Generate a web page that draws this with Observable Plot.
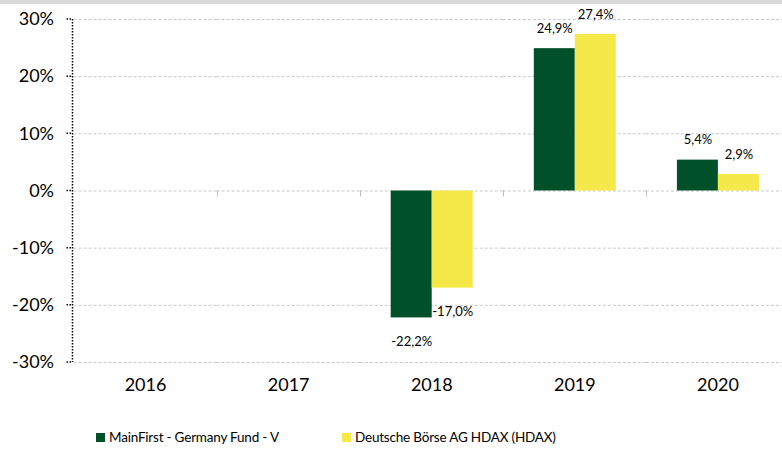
<!DOCTYPE html>
<html><head><meta charset="utf-8">
<script src="https://cdn.jsdelivr.net/npm/d3@7"></script>
<script src="https://cdn.jsdelivr.net/npm/@observablehq/plot@0.6"></script>
<style>
body{margin:0;overflow:hidden;background:#fff;font-family:Lato,sans-serif;width:782px;height:450px;position:relative}
#topband{position:absolute;left:0;top:0;width:782px;height:4px;background:#d9d9d9}
#chart{position:absolute;left:0;top:0;width:782px;overflow:hidden}
#chart svg{max-width:none !important}
#legend{position:absolute;top:429px;left:0;width:782px;height:20px;font-size:13.5px;letter-spacing:-0.2px;color:#000}
.item{position:absolute;top:0;display:flex;align-items:center;white-space:nowrap}
.sw{width:9px;height:9px;margin-right:4px}
</style></head><body>
<div id="chart"></div><div id="topband"></div><div id="legend"></div>
<script>
const years = ["2016","2017","2018","2019","2020"];
const seriesNames = ["MainFirst - Germany Fund - V","Deutsche Börse AG HDAX (HDAX)"];
const fundValues = [null,null,-22.2,24.9,5.4];
const indexValues = [null,null,-17.0,27.4,2.9];
const yTicks = [-30,-20,-10,0,10,20,30];
const colors = ["#00502a","#f5e94a"];

const rows = [];
years.forEach((yr,i)=>{
  [fundValues,indexValues].forEach((vals,s)=>{
    rows.push({year: yr, series: seriesNames[s], value: vals[i]});
  });
});
const valued = rows.filter(d => d.value != null);
const fmt = v => v.toFixed(1).replace(".", ",") + "%";

const plot = Plot.plot({
  width: 790, height: 400,
  marginLeft: 73, marginRight: 0, marginTop: 19, marginBottom: 38,
  style: {fontFamily: "Lato, sans-serif", fontSize: "17px", color: "#000", background: "transparent", maxWidth: "none"},
  fx: {domain: years, padding: 0, label: null, axis: null, range: [73.5, 789], round: false},
  x: {domain: seriesNames, paddingInner: 0, paddingOuter: 0.74, axis: null, label: null},
  y: {domain: [-30, 30], label: null, axis: null, range: [362, 19]},
  color: {domain: seriesNames, range: colors},
  marks: [
    Plot.gridY({ticks: yTicks, stroke: "#c8c8c8", strokeOpacity: 1, strokeDasharray: "3,2"}),
    Plot.barY(rows, {fx: "year", x: "series", y: "value", fill: "series"}),
    Plot.text(valued.filter(d => d.value >= 0), {fx: "year", x: "series", y: "value", text: d => fmt(d.value), dy: -20, fontSize: 13, fill: "#000"}),
    Plot.text(valued.filter(d => d.value < 0), {fx: "year", x: "series", y: "value", text: d => fmt(d.value), dy: 24, fontSize: 13, fill: "#000"}),
    Plot.axisY({ticks: yTicks, tickFormat: d => d + "%", tickSize: 0, tickPadding: 20, fontSize: 18}),
    Plot.axisFx({anchor: "bottom", tickSize: 0, tickPadding: 16, fontSize: 18, label: null})
  ]
});
document.getElementById("chart").appendChild(plot);

// Excel-style dotted axis and category boundary ticks, from the plot's own scales
const ys = plot.scale("y"), fxs = plot.scale("fx");
const svg = d3.select(plot);
const ax = 72.5;
const g = svg.append("g");
g.append("line").attr("x1", ax).attr("x2", ax).attr("y1", ys.apply(30)).attr("y2", ys.apply(-30))
  .attr("stroke", "#000").attr("stroke-width", 1.5).attr("stroke-dasharray", "1.5,1.5");
yTicks.forEach(t => {
  g.append("line").attr("x1", ax - 6).attr("x2", ax).attr("y1", ys.apply(t)).attr("y2", ys.apply(t))
    .attr("stroke", "#000").attr("stroke-width", 1.5).attr("stroke-dasharray", "1.5,1.5");
});
years.slice(1).forEach(yr => {
  const x = Math.round(fxs.apply(yr)) + 0.5;
  g.append("line").attr("x1", x).attr("x2", x).attr("y1", ys.apply(0)).attr("y2", ys.apply(0) + 6)
    .attr("stroke", "#bfbfbf").attr("stroke-width", 1);
});

const leg = document.getElementById("legend");
const lx = [96, 342];
seriesNames.forEach((n, i) => {
  const it = document.createElement("div");
  it.className = "item"; it.style.left = lx[i] + "px";
  it.innerHTML = `<div class="sw" style="background:${colors[i]}"></div><span>${n}</span>`;
  leg.appendChild(it);
});
</script>
</body></html>
